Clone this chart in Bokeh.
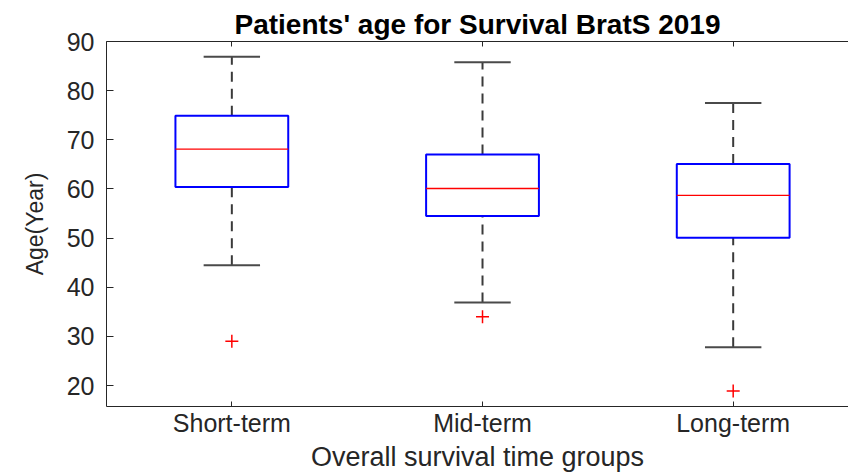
from bokeh.plotting import figure
from bokeh.models import Range1d, FixedTicker, LinearAxis, ColumnDataSource
from bokeh.embed import file_html
from bokeh.resources import INLINE

# ---- data ----
categories = ["Short-term", "Mid-term", "Long-term"]
lower_whisker = [44.5, 36.9, 27.8]
q1 = [60.4, 54.5, 50.1]
median = [68.1, 60.1, 58.7]
q3 = [74.9, 67.0, 65.1]
upper_whisker = [86.9, 85.8, 77.5]
outlier_group = [0, 1, 2]
outlier_value = [29.0, 34.0, 18.9]
y_ticks = [20, 30, 40, 50, 60, 70, 80, 90]

TXT = "#262626"
FONT = "Liberation Sans"
BOX_W = 0.45
CAP_W = 0.225

xs = [i + 1 for i in range(len(categories))]
src = ColumnDataSource(dict(
    x=xs,
    left=[x - BOX_W / 2 for x in xs],
    right=[x + BOX_W / 2 for x in xs],
    cl=[x - CAP_W / 2 for x in xs],
    cr=[x + CAP_W / 2 for x in xs],
    lw=lower_whisker, q1=q1, med=median, q3=q3, uw=upper_whisker,
))
out_src = ColumnDataSource(dict(x=[xs[g] for g in outlier_group], y=outlier_value))

p = figure(width=848, height=474, output_backend="svg", toolbar_location=None,
           x_range=Range1d(0.5, 3.46), y_range=Range1d(15.75, 90),
           min_border_left=106, min_border_right=0, min_border_top=41,
           min_border_bottom=66, title="Patients' age for Survival BratS 2019")
p.outline_line_color = None
p.xgrid.visible = False
p.ygrid.visible = False
p.background_fill_color = "white"
p.border_fill_color = "white"

p.title.align = "center"
p.title.text_font = FONT
p.title.text_font_size = "28px"
p.title.text_font_style = "bold"
p.title.text_color = "black"
p.title.offset = 5
p.title.standoff = 4

# whiskers (dashed) and caps
p.segment(x0="x", y0="q3", x1="x", y1="uw", source=src, line_color="#3a3a3a",
          line_width=2, line_dash="10 7")
p.segment(x0="x", y0="lw", x1="x", y1="q1", source=src, line_color="#3a3a3a",
          line_width=2, line_dash="10 7")
p.segment(x0="cl", y0="uw", x1="cr", y1="uw", source=src, line_color="#4a4a4a", line_width=2)
p.segment(x0="cl", y0="lw", x1="cr", y1="lw", source=src, line_color="#4a4a4a", line_width=2)

# boxes and medians
p.quad(left="left", right="right", bottom="q1", top="q3", source=src,
       fill_color=None, line_color="#0000ff", line_width=2)
p.segment(x0="left", y0="med", x1="right", y1="med", source=src,
          line_color="#ff0000", line_width=1.3)

# outliers
p.scatter(x="x", y="y", source=out_src, marker="cross", size=13,
          line_color="#ff0000", line_width=1.5)

# axes
xa = p.xaxis[0]
xa.ticker = FixedTicker(ticks=xs)
xa.major_label_overrides = {x: c for x, c in zip(xs, categories)}
xa.axis_label = "Overall survival time groups"
ya = p.yaxis[0]
ya.ticker = FixedTicker(ticks=y_ticks)
ya.axis_label = "Age(Year)"

for ax in (xa, ya):
    ax.axis_line_color = TXT
    ax.major_tick_line_color = TXT
    ax.minor_tick_line_color = None
    ax.major_tick_out = 0
    ax.major_label_text_font = FONT
    ax.major_label_text_color = TXT
    ax.axis_label_text_font = FONT
    ax.axis_label_text_color = TXT
    ax.axis_label_text_font_style = "normal"

xa.major_tick_in = 5
xa.major_label_text_font_size = "25px"
xa.major_label_standoff = 2
xa.axis_label_text_font_size = "27px"
xa.axis_label_standoff = 2

ya.major_tick_in = 7
ya.major_label_text_font_size = "25px"
ya.major_label_standoff = 12
ya.axis_label_text_font_size = "23px"
ya.axis_label_standoff = 16

top = LinearAxis(ticker=FixedTicker(ticks=xs), axis_line_color=TXT,
                 major_tick_line_color=TXT, major_tick_in=5, major_tick_out=0,
                 minor_tick_line_color=None,
                 major_label_overrides={x: "" for x in xs},
                 major_label_standoff=0)
p.add_layout(top, "above")

open("out.html", "w").write(file_html(p, INLINE))
